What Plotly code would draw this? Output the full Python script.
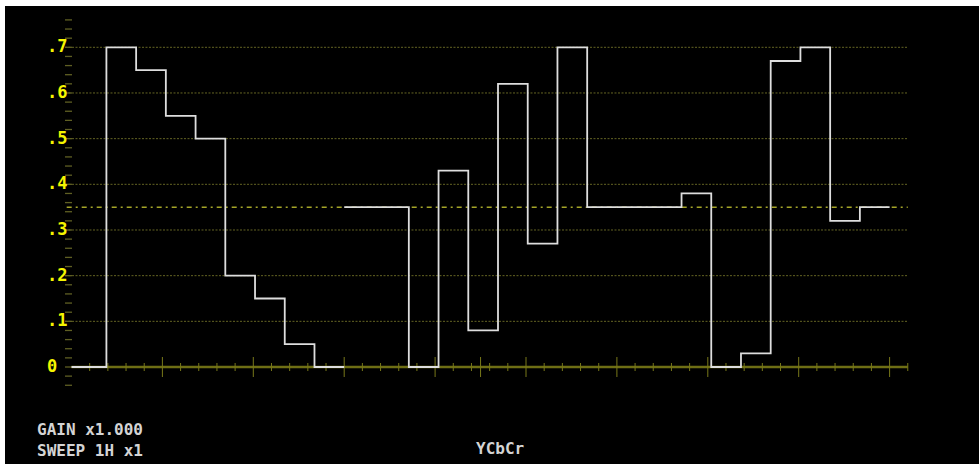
import plotly.graph_objects as go

# ---- data -------------------------------------------------------------
# Graticule levels (volts) and their labels
grid_levels = [0.1, 0.2, 0.3, 0.4, 0.5, 0.6, 0.7]
label_values = [0.7, 0.6, 0.5, 0.4, 0.3, 0.2, 0.1, 0.0]
label_texts = [".7", ".6", ".5", ".4", ".3", ".2", ".1", "0"]
chroma_center = 0.35

# Bar levels of the colour-bar signal, one list per component
y_levels = [0.70, 0.65, 0.55, 0.50, 0.20, 0.15, 0.05, 0.00]
cb_levels = [0.35, 0.00, 0.43, 0.08, 0.62, 0.27, 0.70, 0.35]
cr_levels = [0.35, 0.38, 0.00, 0.03, 0.67, 0.70, 0.32, 0.35]
blank_levels = [0.00, 0.35, 0.35]

# status read-out
status_lines = ["GAIN x1.000", "SWEEP 1H x1"]
mode_text = "YCbCr"

# ---- geometry (time axis in graticule divisions) ----------------------
COMP_LEN = 15.0          # one component of the parade
BLANK = 1.92             # blanking before the first bar
BAR = (COMP_LEN - BLANK) / 8
AXIS_END = 46

# pixel <-> data helpers for the fixed 979x464 canvas
X0_PX, UNIT_PX = 71.5, 18.18
Y0_PX, VOLT_PX = 367.0, 456.7
L_M, T_M, W, H = 5, 6, 979, 464


def dx(px):
    return (px - X0_PX) / UNIT_PX


def dy(py):
    return (Y0_PX - py) / VOLT_PX


OLIVE = "rgb(100,100,35)"
YELLOW = "rgb(245,245,0)"
TRACE = "rgb(222,222,222)"
TEXT = "rgb(212,212,212)"

fig = go.Figure()

# horizontal dotted graticule
for lv in grid_levels:
    fig.add_trace(go.Scatter(x=[dx(65), AXIS_END], y=[lv, lv], mode="lines",
                             line=dict(color=OLIVE, width=1, dash="2px,1.5px"),
                             hoverinfo="skip", showlegend=False))

# chroma centre line (dash-dot)
fig.add_trace(go.Scatter(x=[dx(66.7), AXIS_END], y=[chroma_center] * 2, mode="lines",
                         line=dict(color="rgb(165,165,40)", width=1.5,
                                   dash="5px,4px,2px,4px"),
                         hoverinfo="skip", showlegend=False))

# left scale: small ticks every 0.02 V
tx, ty = [], []
for i in range(-2, 39):
    v = i * 0.02
    tx += [dx(65), dx(72), None]
    ty += [v, v, None]
fig.add_trace(go.Scatter(x=tx, y=ty, mode="lines",
                         line=dict(color="rgb(95,95,35)", width=1.3),
                         hoverinfo="skip", showlegend=False))

# zero line with time ticks
fig.add_trace(go.Scatter(x=[0, AXIS_END], y=[0, 0], mode="lines",
                         line=dict(color="rgb(110,110,20)", width=2.5),
                         hoverinfo="skip", showlegend=False))
minor_h = 4 / VOLT_PX
major_h = 10 / VOLT_PX
kx, ky = [], []
ticks = [float(t) for t in range(1, AXIS_END + 1)] + [22.5]
for t in ticks:
    h = major_h if (t % 5 == 0 or t == 22.5) else minor_h
    kx += [t, t, None]
    ky += [-h, h, None]
fig.add_trace(go.Scatter(x=kx, y=ky, mode="lines",
                         line=dict(color="rgb(120,120,25)", width=1),
                         hoverinfo="skip", showlegend=False))

# waveform: Y, Cb, Cr parade drawn as steps
wx, wy = [], []
for c, levels in enumerate([y_levels, cb_levels, cr_levels]):
    start = c * COMP_LEN
    xs = [start] + [start + BLANK + k * BAR for k in range(8)] + [start + COMP_LEN]
    ys = [blank_levels[c]] + levels + [levels[-1]]
    wx += xs + [None]
    wy += ys + [None]
fig.add_trace(go.Scatter(x=wx, y=wy, mode="lines",
                         line=dict(color=TRACE, width=1.8, shape="hv"),
                         connectgaps=False, hoverinfo="skip", showlegend=False))

# scale labels
annotations = []
for v, t in zip(label_values, label_texts):
    annotations.append(dict(x=dx(45.0), y=v, xref="x", yref="y", text=t,
                            showarrow=False, xanchor="left", yanchor="middle",
                            yshift=1,
                            font=dict(family="DejaVu Sans Mono", size=17,
                                      color=YELLOW, weight="bold")))

# status text: two-line block bottom-left, mode name centred
status_font = dict(family="DejaVu Sans Mono", size=16, color=TEXT, weight="bold")
annotations.append(dict(x=dx(35.0), y=dy(440.0), xref="x", yref="y",
                        text="<br>".join(status_lines), align="left",
                        showarrow=False, xanchor="left", yanchor="middle",
                        font=status_font))
annotations.append(dict(x=dx(499.6), y=dy(448.0), xref="x", yref="y",
                        text=mode_text, showarrow=False,
                        xanchor="center", yanchor="middle", font=status_font))

fig.update_layout(
    width=W, height=H,
    margin=dict(l=L_M, r=0, t=T_M, b=0, pad=0, autoexpand=False),
    paper_bgcolor="white",
    plot_bgcolor="black",
    xaxis=dict(range=[dx(L_M), dx(W)], visible=False, fixedrange=True),
    yaxis=dict(range=[dy(H), dy(T_M)], visible=False, fixedrange=True),
    annotations=annotations,
    showlegend=False,
)

fig.write_html("out.html", config={"displayModeBar": False})
